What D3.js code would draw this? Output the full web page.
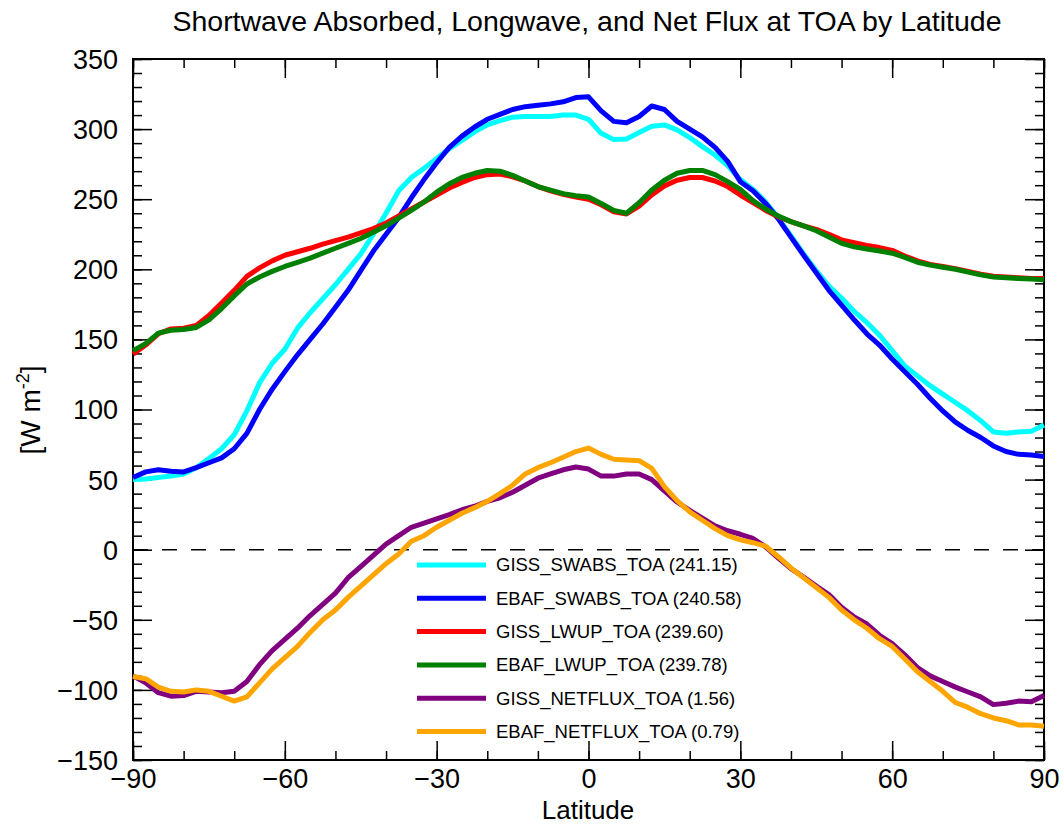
<!DOCTYPE html>
<html>
<head>
<meta charset="utf-8">
<script src="https://cdn.jsdelivr.net/npm/d3@7"></script>
<style>
  body { margin: 0; background: #fff; }
  text { font-family: "Liberation Sans", Arial, Helvetica, sans-serif; fill: #000; }
</style>
</head>
<body>
<svg id="chart" width="1063" height="825"></svg>
<script>
// latitude grid, 2.5 deg
var lat = [-90,-87.5,-85,-82.5,-80,-77.5,-75,-72.5,-70,-67.5,-65,-62.5,-60,-57.5,-55,-52.5,-50,-47.5,-45,-42.5,
  -40,-37.5,-35,-32.5,-30,-27.5,-25,-22.5,-20,-17.5,-15,-12.5,-10,-7.5,-5,-2.5,0,2.5,5,7.5,10,12.5,15,17.5,20,
  22.5,25,27.5,30,32.5,35,37.5,40,42.5,45,47.5,50,52.5,55,57.5,60,62.5,65,67.5,70,72.5,75,77.5,80,82.5,85,87.5,90];

var gissSwabs = [50,50.5,51.5,52.5,54,58.5,65,72,82,99,119,133,143,158,169,179,189,200,211,225,
  240,256,265.5,272,279,286,292,298,303,306,308.5,309,309,309,310,310,307,297,292.5,293,297.5,302,303,299.5,294,
  287.5,281.5,274,264,257,248,236.5,224,211,199,188,179.5,170,162,153,142,131,124,117,111,105,99,92,84,83,84,84.5,89];

var ebafSwabs = [51.5,55.5,57,56,55.5,58.5,62,65.5,72,83,100,114.5,127,139,150,161,173,185,199,213,
  225,237,251,264,276,287,295,301.5,307,310.5,314,316,317,318,319.5,322.5,323,313,305.5,304.5,309,316.5,314,305.5,300,
  294.5,287,277,262.5,256,247,236,223,210,197.5,185,174.5,164,154,146,136,127,118,108,99,91,85,80,74,70,68,67.5,66.5];

var gissLwup = [139.5,146,154,157.5,158,160,167,176,185,195,201,206,210,212.5,215,218,220.5,223,226,229,
  233,238,243,248,253,258,262,265.5,267.5,268,266,263,259,256,253.5,251.5,250,246,241,239.5,245,253,259.5,263.5,265.5,
  265.5,263,259,253,247.5,242,237.5,234,231,228.5,225,221,219,217,215.5,213.5,209.5,206,203.5,202,200.5,198.5,196.5,195,194.5,194,193.5,193.5];

var ebafLwup = [142,147,154.5,156.5,157,158.5,164,172,181,189.5,194.5,198.5,202,205,208,211.5,215,218.5,222,226.5,
  231,236.5,242,248,255,261,265.5,268.5,270.5,270,267,263,259,256.5,254,252.5,251.5,247,242,240,247.5,256.5,263.5,268.5,270.5,
  270.5,267.5,262.5,257,249,243,238,234,231,227.5,223,218.5,216,214.5,213,211.5,208.5,205,203,201.5,200,198,196,194.5,194,193.5,193,192.5];

var gissNet = [-90,-95,-102,-104.5,-104,-101,-101.5,-102,-101,-94,-82,-72,-64,-56,-47,-39,-31,-20,-12,-4,
  4,10,16,19,22,25,28.5,31,34.5,37,41,46,51,54,57,59,57.5,52.5,52.5,54,54,50,42,34,28,
  22.5,17,13.5,11,8,2,-6,-13.5,-19.5,-26,-32,-41,-48,-53,-61,-67,-75,-84,-90,-94,-98,-101.5,-105,-110.5,-109.5,-108,-108.5,-104];

var ebafNet = [-90.5,-92,-98,-101,-101.5,-100,-101,-104.5,-108,-105,-95,-85,-77,-69,-59,-50,-43,-34,-26,-18,
  -10,-3,6,10,16,21,26,30,34.5,40,46,54,58.5,62,66,70,72.5,68,64.5,64,63.5,58,45,35,27,
  21,15,10,7,5,2.5,-5,-13,-20,-27,-34,-43,-50,-56,-63.5,-69,-78,-87,-94,-101,-109,-112.5,-117,-120,-122,-125,-125,-126];

var seriesNames = ["GISS_SWABS_TOA (241.15)", "EBAF_SWABS_TOA (240.58)", "GISS_LWUP_TOA (239.60)",
  "EBAF_LWUP_TOA (239.78)", "GISS_NETFLUX_TOA (1.56)", "EBAF_NETFLUX_TOA (0.79)"];
var seriesColors = ["#00ffff", "#0000ff", "#ff0000", "#008000", "#800080", "#ffa500"];
var seriesValues = [gissSwabs, ebafSwabs, gissLwup, ebafLwup, gissNet, ebafNet];

var xTicks = [-90, -60, -30, 0, 30, 60, 90];
var yTicks = [-150, -100, -50, 0, 50, 100, 150, 200, 250, 300, 350];

var svg = d3.select("#chart"),
    margin = {top: 59, right: 19, bottom: 65, left: 133},
    width = +svg.attr("width") - margin.left - margin.right,
    height = +svg.attr("height") - margin.top - margin.bottom;

var g = svg.append("g")
    .attr("transform", "translate(" + margin.left + "," + margin.top + ")");

var x = d3.scaleLinear().domain([-90, 90]).range([0, width]);
var y = d3.scaleLinear().domain([-150, 350]).range([height, 0]);

var minorX = d3.range(-90, 91, 10);
var minorY = d3.range(-150, 351, 10);

// inward ticks on all four sides
function tickAxes(axisFn, scale, ticks, size, transform, labels) {
    var ax = axisFn(scale).tickValues(ticks).tickSizeInner(-size).tickSizeOuter(0);
    if (!labels) ax.tickFormat("");
    var sel = g.append("g").attr("transform", transform).call(ax);
    sel.select(".domain").remove();
    sel.selectAll("line").attr("stroke", "#000").attr("stroke-width", 1.5);
    return sel;
}

tickAxes(d3.axisBottom, x, minorX, 9, "translate(0," + height + ")", false);
tickAxes(d3.axisTop, x, minorX, 9, "translate(0,0)", false);
tickAxes(d3.axisLeft, y, minorY, 9, "translate(0,0)", false);
tickAxes(d3.axisRight, y, minorY, 9, "translate(" + width + ",0)", false);

var xAxis = tickAxes(d3.axisBottom, x, xTicks, 19, "translate(0," + height + ")", true);
tickAxes(d3.axisTop, x, xTicks, 19, "translate(0,0)", false);
var yAxis = tickAxes(d3.axisLeft, y, yTicks, 19, "translate(0,0)", true);
tickAxes(d3.axisRight, y, yTicks, 19, "translate(" + width + ",0)", false);

xAxis.selectAll("text")
    .attr("font-size", 27)
    .attr("font-family", "Liberation Sans, Arial, sans-serif")
    .attr("fill", "#000")
    .attr("y", 9)
    .attr("dy", "0.71em");

yAxis.selectAll("text")
    .attr("font-size", 27)
    .attr("font-family", "Liberation Sans, Arial, sans-serif")
    .attr("fill", "#000")
    .attr("x", -15)
    .attr("dy", "0.35em");

// frame
g.append("rect")
    .attr("width", width)
    .attr("height", height)
    .attr("fill", "none")
    .attr("stroke", "#000")
    .attr("stroke-width", 2);

// zero line
g.append("line")
    .attr("x1", 0).attr("x2", width)
    .attr("y1", y(0)).attr("y2", y(0))
    .attr("stroke", "#000")
    .attr("stroke-width", 1.5)
    .attr("stroke-dasharray", "15,14");

var line = d3.line()
    .x(function(d, i) { return x(lat[i]); })
    .y(function(d) { return y(d); });

g.selectAll(".series")
    .data(seriesValues)
    .enter()
    .append("path")
    .attr("class", "series")
    .attr("d", line)
    .attr("fill", "none")
    .attr("stroke", function(d, i) { return seriesColors[i]; })
    .attr("stroke-width", 5)
    .attr("stroke-linejoin", "round");

// legend
var legend = svg.append("g").attr("transform", "translate(417,565)");
var items = legend.selectAll(".item")
    .data(seriesNames)
    .enter()
    .append("g")
    .attr("class", "item")
    .attr("transform", function(d, i) { return "translate(0," + (i * 33.3) + ")"; });

items.append("line")
    .attr("x1", 0).attr("x2", 69)
    .attr("stroke", function(d, i) { return seriesColors[i]; })
    .attr("stroke-width", 5);

items.append("text")
    .attr("x", 79)
    .attr("dy", "0.35em")
    .attr("font-size", 18.5)
    .text(function(d) { return d; });

// title and axis labels
svg.append("text")
    .attr("x", 587)
    .attr("y", 31)
    .attr("text-anchor", "middle")
    .attr("font-size", 28.5)
    .text("Shortwave Absorbed, Longwave, and Net Flux at TOA by Latitude");

svg.append("text")
    .attr("x", 588)
    .attr("y", 819)
    .attr("text-anchor", "middle")
    .attr("font-size", 26)
    .text("Latitude");

var yl = svg.append("text")
    .attr("transform", "translate(40,410) rotate(-90)")
    .attr("text-anchor", "middle")
    .attr("font-size", 28);
yl.append("tspan").text("[W m");
yl.append("tspan").attr("dy", -11).attr("font-size", 18).text("-2");
yl.append("tspan").attr("dy", 11).text("]");
</script>
</body>
</html>
